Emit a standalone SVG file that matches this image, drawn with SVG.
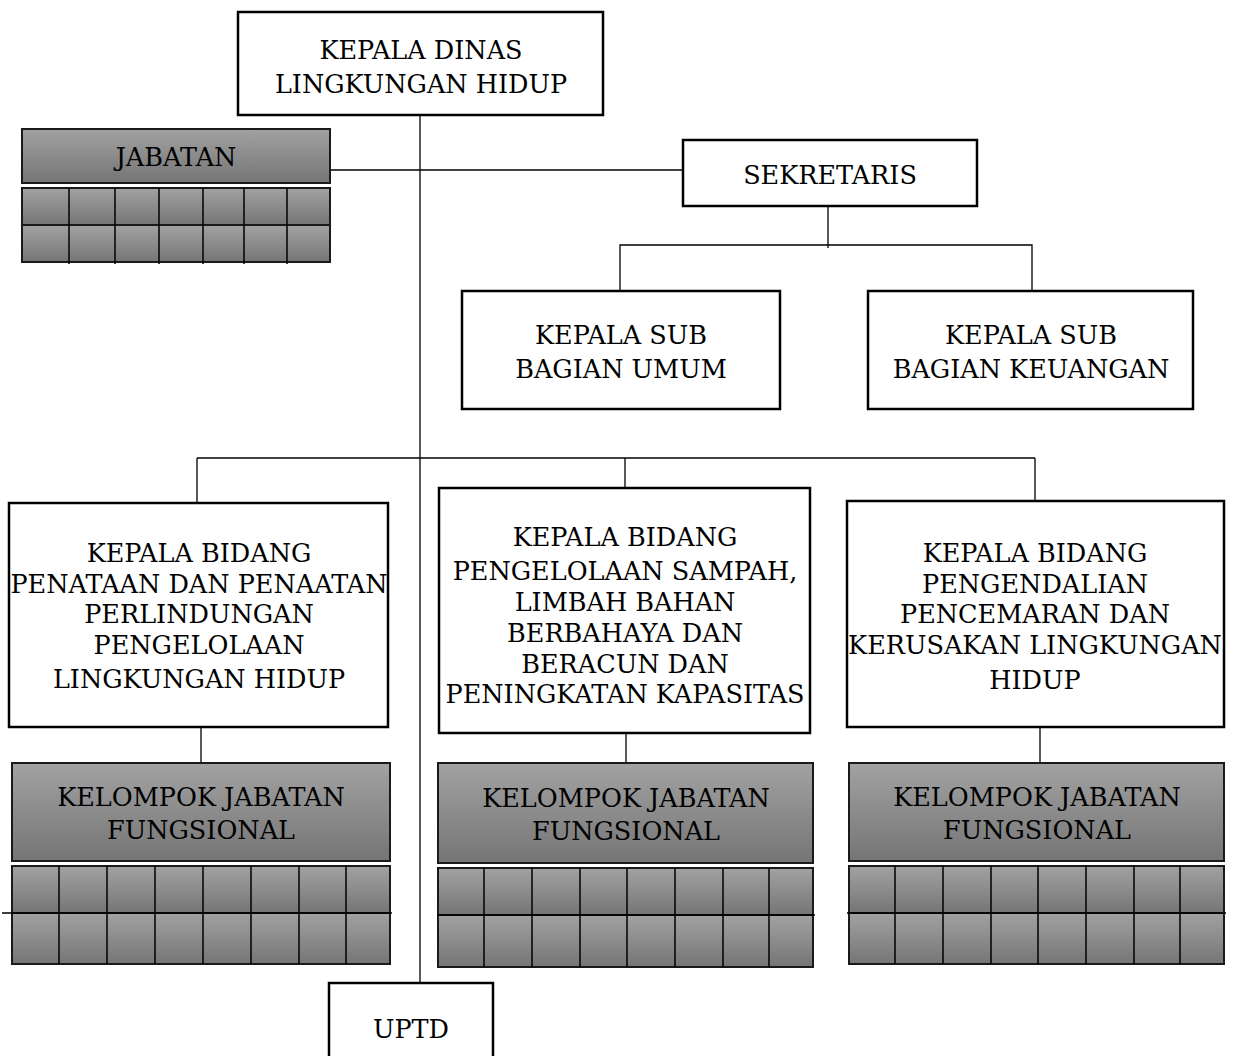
<svg xmlns="http://www.w3.org/2000/svg" width="1233" height="1056" viewBox="0 0 1233 1056">
<defs>
<linearGradient id="g" x1="0" y1="0" x2="0" y2="1">
<stop offset="0" stop-color="#a2a2a2"/>
<stop offset="1" stop-color="#757575"/>
</linearGradient>
<style>
.box{fill:#fff;stroke:#000;stroke-width:2.5}
.gbox{fill:url(#g);stroke:#1a1a1a;stroke-width:2}
.ln{stroke:#000;stroke-width:1.3;fill:none}
.gl{stroke:#000;stroke-width:1.5;fill:none}
text{font-family:"DejaVu Serif","Liberation Serif",serif;font-size:25.5px;fill:#000;text-anchor:middle}
</style>
</defs>
<g id="connectors">
<line class="ln" x1="420" y1="115" x2="420" y2="983"/>
<line class="ln" x1="330" y1="170" x2="683" y2="170"/>
<line class="ln" x1="828" y1="206" x2="828" y2="248"/>
<polyline class="ln" points="620,291 620,245 1032,245 1032,291"/>
<line class="ln" x1="197" y1="458" x2="1035" y2="458"/>
<line class="ln" x1="197" y1="458" x2="197" y2="503"/>
<line class="ln" x1="625" y1="458" x2="625" y2="488"/>
<line class="ln" x1="1035" y1="458" x2="1035" y2="501"/>
<line class="ln" x1="201" y1="727" x2="201" y2="763"/>
<line class="ln" x1="626" y1="733" x2="626" y2="763"/>
<line class="ln" x1="1040" y1="727" x2="1040" y2="763"/>
</g>
<g id="kepala-dinas">
<rect class="box" x="238" y="12" width="365" height="103"/>
<text x="421" y="59">KEPALA DINAS</text>
<text x="421" y="93">LINGKUNGAN HIDUP</text>
</g>
<g id="jabatan">
<rect class="gbox" x="22" y="129" width="308" height="54"/>
<text x="176" y="166">JABATAN</text>
<rect class="gbox" x="22" y="188" width="308" height="37"/>
<rect class="gbox" x="22" y="225" width="308" height="37"/>
<path class="gl" d="M69,188V264M115,188V264M159,188V264M203,188V264M244,188V264M287,188V264"/>
</g>
<g id="sekretaris">
<rect class="box" x="683" y="140" width="294" height="66"/>
<text x="830" y="184">SEKRETARIS</text>
</g>
<g id="kasubag-umum">
<rect class="box" x="462" y="291" width="318" height="118"/>
<text x="621" y="344">KEPALA SUB</text>
<text x="621" y="378">BAGIAN UMUM</text>
</g>
<g id="kasubag-keuangan">
<rect class="box" x="868" y="291" width="325" height="118"/>
<text x="1031" y="344">KEPALA SUB</text>
<text x="1031" y="378">BAGIAN KEUANGAN</text>
</g>
<g id="bidang-penataan">
<rect class="box" x="9" y="503" width="379" height="224"/>
<text x="199" y="562">KEPALA BIDANG</text>
<text x="199" y="593">PENATAAN DAN PENAATAN</text>
<text x="199" y="623">PERLINDUNGAN</text>
<text x="199" y="654">PENGELOLAAN</text>
<text x="199" y="688">LINGKUNGAN HIDUP</text>
</g>
<g id="bidang-sampah">
<rect class="box" x="439" y="488" width="371" height="245"/>
<text x="625" y="546">KEPALA BIDANG</text>
<text x="625" y="580">PENGELOLAAN SAMPAH,</text>
<text x="625" y="611">LIMBAH BAHAN</text>
<text x="625" y="642">BERBAHAYA DAN</text>
<text x="625" y="673">BERACUN DAN</text>
<text x="625" y="703">PENINGKATAN KAPASITAS</text>
</g>
<g id="bidang-pengendalian">
<rect class="box" x="847" y="501" width="377" height="226"/>
<text x="1035" y="562">KEPALA BIDANG</text>
<text x="1035" y="593">PENGENDALIAN</text>
<text x="1035" y="623">PENCEMARAN DAN</text>
<text x="1035" y="654">KERUSAKAN LINGKUNGAN</text>
<text x="1035" y="689">HIDUP</text>
</g>
<g id="kjf-1">
<rect class="gbox" x="12" y="763" width="378" height="98"/>
<text x="201" y="806">KELOMPOK JABATAN</text>
<text x="201" y="839">FUNGSIONAL</text>
<rect class="gbox" x="12" y="866" width="378" height="47"/>
<rect class="gbox" x="12" y="913" width="378" height="51"/>
<path class="gl" d="M2,913H392M59,866V964M107,866V964M155,866V964M203,866V964M251,866V964M299,866V964M346,866V964"/>
</g>
<g id="kjf-2">
<rect class="gbox" x="438" y="763" width="375" height="100"/>
<text x="626" y="807">KELOMPOK JABATAN</text>
<text x="626" y="840">FUNGSIONAL</text>
<rect class="gbox" x="438" y="868" width="375" height="47"/>
<rect class="gbox" x="438" y="915" width="375" height="52"/>
<path class="gl" d="M437,915H815M484,868V967M532,868V967M580,868V967M627,868V967M675,868V967M723,868V967M769,868V967"/>
</g>
<g id="kjf-3">
<rect class="gbox" x="849" y="763" width="375" height="98"/>
<text x="1037" y="806">KELOMPOK JABATAN</text>
<text x="1037" y="839">FUNGSIONAL</text>
<rect class="gbox" x="849" y="866" width="375" height="47"/>
<rect class="gbox" x="849" y="913" width="375" height="51"/>
<path class="gl" d="M847,913H1226M895,866V964M943,866V964M991,866V964M1038,866V964M1086,866V964M1134,866V964M1180,866V964"/>
</g>
<g id="uptd">
<rect class="box" x="329" y="983" width="164" height="80"/>
<text x="411" y="1038">UPTD</text>
</g>
</svg>
